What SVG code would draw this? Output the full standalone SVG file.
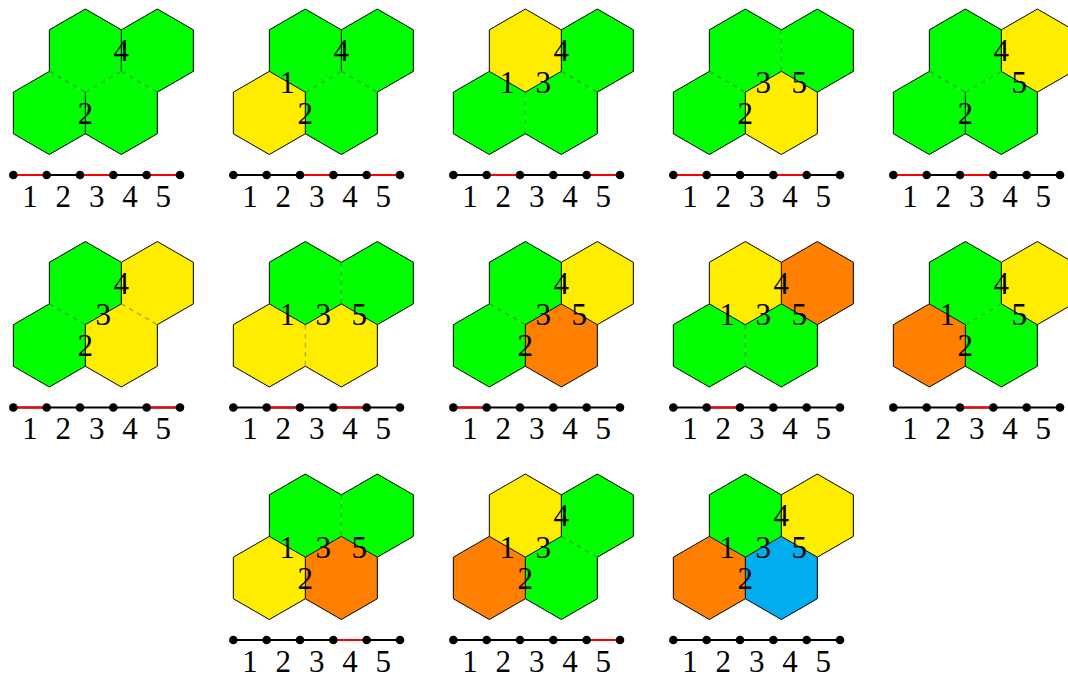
<svg xmlns="http://www.w3.org/2000/svg" xmlns:xlink="http://www.w3.org/1999/xlink" width="1068" height="677" viewBox="0 0 1068 677" font-family="'Liberation Serif', 'Times New Roman', serif" font-size="31">
<style>
.g{fill:#00ff00}.y{fill:#ffed00}.o{fill:#ff8000}.b{fill:#00aeef}
.dash{fill:none;stroke:#000;stroke-opacity:.3;stroke-width:1.2;stroke-dasharray:5 4}
.solid{fill:none;stroke:#000;stroke-width:1}
.ol{fill:none;stroke:#000;stroke-width:1;stroke-linejoin:round}
text{font-family:'Liberation Serif','Times New Roman',serif;font-size:31px;text-anchor:middle;fill:#000}
.pl{stroke:#000;stroke-width:1.8}
.red{stroke:#ff0000;stroke-width:2.2}
.dot{fill:#000}
</style>
<defs>
<polygon id="hex" points="0,-41.57 36,-20.78 36,20.78 0,41.57 -36,20.78 -36,-20.78"/>
<line id="e1" x1="49.33" y1="71.38" x2="85.33" y2="92.17"/>
<line id="e2" x1="85.33" y1="92.17" x2="85.33" y2="133.73"/>
<line id="e3" x1="85.33" y1="92.17" x2="121.33" y2="71.38"/>
<line id="e4" x1="121.33" y1="29.82" x2="121.33" y2="71.38"/>
<line id="e5" x1="121.33" y1="71.38" x2="157.33" y2="92.17"/>
<path id="outline" d="M13.33,92.17 L49.33,71.38 L49.33,29.82 L85.33,9.03 L121.33,29.82 L157.33,9.03 L193.33,29.82 L193.33,71.38 L157.33,92.17 L157.33,133.73 L121.33,154.52 L85.33,133.73 L49.33,154.52 L13.33,133.73 Z"/>
<line id="pbase" x1="13.33" y1="175" x2="180" y2="175"/>
<line id="s1" x1="13.33" y1="175" x2="46.67" y2="175"/>
<line id="s2" x1="46.67" y1="175" x2="80" y2="175"/>
<line id="s3" x1="80" y1="175" x2="113.33" y2="175"/>
<line id="s4" x1="113.33" y1="175" x2="146.67" y2="175"/>
<line id="s5" x1="146.67" y1="175" x2="180" y2="175"/>
<g id="dots">
<circle cx="13.33" cy="175" r="4.3"/><circle cx="46.67" cy="175" r="4.3"/><circle cx="80" cy="175" r="4.3"/>
<circle cx="113.33" cy="175" r="4.3"/><circle cx="146.67" cy="175" r="4.3"/><circle cx="180" cy="175" r="4.3"/>
</g>
</defs>

<!-- Panel 1 -->
<g id="panel1" transform="translate(0,0)">
<g id="p1-hexes"><use href="#hex" x="85.33" y="50.6" class="g"/><use href="#hex" x="157.33" y="50.6" class="g"/><use href="#hex" x="49.33" y="112.95" class="g"/><use href="#hex" x="121.33" y="112.95" class="g"/></g>
<g id="p1-borders"><use href="#e1" class="dash"/><use href="#e2" class="solid"/><use href="#e3" class="dash"/><use href="#e4" class="solid"/><use href="#e5" class="dash"/><use href="#outline" class="ol"/></g>
<g id="p1-labels"><text x="85.33" y="123.7">2</text><text x="121.33" y="61.4">4</text></g>
<g id="p1-path"><use href="#pbase" class="pl"/><use href="#s1" class="red"/><use href="#s3" class="red"/><use href="#s5" class="red"/><use href="#dots" class="dot"/>
<text x="30" y="206.7">1</text><text x="63.33" y="206.7">2</text><text x="96.67" y="206.7">3</text><text x="130" y="206.7">4</text><text x="163.33" y="206.7">5</text></g>
</g>

<!-- Panel 2 -->
<g id="panel2" transform="translate(220,0)">
<g id="p2-hexes"><use href="#hex" x="85.33" y="50.6" class="g"/><use href="#hex" x="157.33" y="50.6" class="g"/><use href="#hex" x="49.33" y="112.95" class="y"/><use href="#hex" x="121.33" y="112.95" class="g"/></g>
<g id="p2-borders"><use href="#e1" class="solid"/><use href="#e2" class="solid"/><use href="#e3" class="dash"/><use href="#e4" class="solid"/><use href="#e5" class="dash"/><use href="#outline" class="ol"/></g>
<g id="p2-labels"><text x="67.33" y="92.5">1</text><text x="85.33" y="123.7">2</text><text x="121.33" y="61.4">4</text></g>
<g id="p2-path"><use href="#pbase" class="pl"/><use href="#s3" class="red"/><use href="#s5" class="red"/><use href="#dots" class="dot"/>
<text x="30" y="206.7">1</text><text x="63.33" y="206.7">2</text><text x="96.67" y="206.7">3</text><text x="130" y="206.7">4</text><text x="163.33" y="206.7">5</text></g>
</g>

<!-- Panel 3 -->
<g id="panel3" transform="translate(440,0)">
<g id="p3-hexes"><use href="#hex" x="85.33" y="50.6" class="y"/><use href="#hex" x="157.33" y="50.6" class="g"/><use href="#hex" x="49.33" y="112.95" class="g"/><use href="#hex" x="121.33" y="112.95" class="g"/></g>
<g id="p3-borders"><use href="#e1" class="solid"/><use href="#e2" class="dash"/><use href="#e3" class="solid"/><use href="#e4" class="solid"/><use href="#e5" class="dash"/><use href="#outline" class="ol"/></g>
<g id="p3-labels"><text x="67.33" y="92.5">1</text><text x="103.33" y="92.5">3</text><text x="121.33" y="61.4">4</text></g>
<g id="p3-path"><use href="#pbase" class="pl"/><use href="#s2" class="red"/><use href="#s5" class="red"/><use href="#dots" class="dot"/>
<text x="30" y="206.7">1</text><text x="63.33" y="206.7">2</text><text x="96.67" y="206.7">3</text><text x="130" y="206.7">4</text><text x="163.33" y="206.7">5</text></g>
</g>

<!-- Panel 4 -->
<g id="panel4" transform="translate(660,0)">
<g id="p4-hexes"><use href="#hex" x="85.33" y="50.6" class="g"/><use href="#hex" x="157.33" y="50.6" class="g"/><use href="#hex" x="49.33" y="112.95" class="g"/><use href="#hex" x="121.33" y="112.95" class="y"/></g>
<g id="p4-borders"><use href="#e1" class="dash"/><use href="#e2" class="solid"/><use href="#e3" class="solid"/><use href="#e4" class="dash"/><use href="#e5" class="solid"/><use href="#outline" class="ol"/></g>
<g id="p4-labels"><text x="85.33" y="123.7">2</text><text x="103.33" y="92.5">3</text><text x="139.33" y="92.5">5</text></g>
<g id="p4-path"><use href="#pbase" class="pl"/><use href="#s1" class="red"/><use href="#s4" class="red"/><use href="#dots" class="dot"/>
<text x="30" y="206.7">1</text><text x="63.33" y="206.7">2</text><text x="96.67" y="206.7">3</text><text x="130" y="206.7">4</text><text x="163.33" y="206.7">5</text></g>
</g>

<!-- Panel 5 -->
<g id="panel5" transform="translate(880,0)">
<g id="p5-hexes"><use href="#hex" x="85.33" y="50.6" class="g"/><use href="#hex" x="157.33" y="50.6" class="y"/><use href="#hex" x="49.33" y="112.95" class="g"/><use href="#hex" x="121.33" y="112.95" class="g"/></g>
<g id="p5-borders"><use href="#e1" class="dash"/><use href="#e2" class="solid"/><use href="#e3" class="dash"/><use href="#e4" class="solid"/><use href="#e5" class="solid"/><use href="#outline" class="ol"/></g>
<g id="p5-labels"><text x="85.33" y="123.7">2</text><text x="121.33" y="61.4">4</text><text x="139.33" y="92.5">5</text></g>
<g id="p5-path"><use href="#pbase" class="pl"/><use href="#s1" class="red"/><use href="#s3" class="red"/><use href="#dots" class="dot"/>
<text x="30" y="206.7">1</text><text x="63.33" y="206.7">2</text><text x="96.67" y="206.7">3</text><text x="130" y="206.7">4</text><text x="163.33" y="206.7">5</text></g>
</g>

<!-- Panel 6 -->
<g id="panel6" transform="translate(0,232.5)">
<g id="p6-hexes"><use href="#hex" x="85.33" y="50.6" class="g"/><use href="#hex" x="157.33" y="50.6" class="y"/><use href="#hex" x="49.33" y="112.95" class="g"/><use href="#hex" x="121.33" y="112.95" class="y"/></g>
<g id="p6-borders"><use href="#e1" class="dash"/><use href="#e2" class="solid"/><use href="#e3" class="solid"/><use href="#e4" class="solid"/><use href="#e5" class="dash"/><use href="#outline" class="ol"/></g>
<g id="p6-labels"><text x="85.33" y="123.7">2</text><text x="103.33" y="92.5">3</text><text x="121.33" y="61.4">4</text></g>
<g id="p6-path"><use href="#pbase" class="pl"/><use href="#s1" class="red"/><use href="#s5" class="red"/><use href="#dots" class="dot"/>
<text x="30" y="206.7">1</text><text x="63.33" y="206.7">2</text><text x="96.67" y="206.7">3</text><text x="130" y="206.7">4</text><text x="163.33" y="206.7">5</text></g>
</g>

<!-- Panel 7 -->
<g id="panel7" transform="translate(220,232.5)">
<g id="p7-hexes"><use href="#hex" x="85.33" y="50.6" class="g"/><use href="#hex" x="157.33" y="50.6" class="g"/><use href="#hex" x="49.33" y="112.95" class="y"/><use href="#hex" x="121.33" y="112.95" class="y"/></g>
<g id="p7-borders"><use href="#e1" class="solid"/><use href="#e2" class="dash"/><use href="#e3" class="solid"/><use href="#e4" class="dash"/><use href="#e5" class="solid"/><use href="#outline" class="ol"/></g>
<g id="p7-labels"><text x="67.33" y="92.5">1</text><text x="103.33" y="92.5">3</text><text x="139.33" y="92.5">5</text></g>
<g id="p7-path"><use href="#pbase" class="pl"/><use href="#s2" class="red"/><use href="#s4" class="red"/><use href="#dots" class="dot"/>
<text x="30" y="206.7">1</text><text x="63.33" y="206.7">2</text><text x="96.67" y="206.7">3</text><text x="130" y="206.7">4</text><text x="163.33" y="206.7">5</text></g>
</g>

<!-- Panel 8 -->
<g id="panel8" transform="translate(440,232.5)">
<g id="p8-hexes"><use href="#hex" x="85.33" y="50.6" class="g"/><use href="#hex" x="157.33" y="50.6" class="y"/><use href="#hex" x="49.33" y="112.95" class="g"/><use href="#hex" x="121.33" y="112.95" class="o"/></g>
<g id="p8-borders"><use href="#e1" class="dash"/><use href="#e2" class="solid"/><use href="#e3" class="solid"/><use href="#e4" class="solid"/><use href="#e5" class="solid"/><use href="#outline" class="ol"/></g>
<g id="p8-labels"><text x="85.33" y="123.7">2</text><text x="103.33" y="92.5">3</text><text x="121.33" y="61.4">4</text><text x="139.33" y="92.5">5</text></g>
<g id="p8-path"><use href="#pbase" class="pl"/><use href="#s1" class="red"/><use href="#dots" class="dot"/>
<text x="30" y="206.7">1</text><text x="63.33" y="206.7">2</text><text x="96.67" y="206.7">3</text><text x="130" y="206.7">4</text><text x="163.33" y="206.7">5</text></g>
</g>

<!-- Panel 9 -->
<g id="panel9" transform="translate(660,232.5)">
<g id="p9-hexes"><use href="#hex" x="85.33" y="50.6" class="y"/><use href="#hex" x="157.33" y="50.6" class="o"/><use href="#hex" x="49.33" y="112.95" class="g"/><use href="#hex" x="121.33" y="112.95" class="g"/></g>
<g id="p9-borders"><use href="#e1" class="solid"/><use href="#e2" class="dash"/><use href="#e3" class="solid"/><use href="#e4" class="solid"/><use href="#e5" class="solid"/><use href="#outline" class="ol"/></g>
<g id="p9-labels"><text x="67.33" y="92.5">1</text><text x="103.33" y="92.5">3</text><text x="121.33" y="61.4">4</text><text x="139.33" y="92.5">5</text></g>
<g id="p9-path"><use href="#pbase" class="pl"/><use href="#s2" class="red"/><use href="#dots" class="dot"/>
<text x="30" y="206.7">1</text><text x="63.33" y="206.7">2</text><text x="96.67" y="206.7">3</text><text x="130" y="206.7">4</text><text x="163.33" y="206.7">5</text></g>
</g>

<!-- Panel 10 -->
<g id="panel10" transform="translate(880,232.5)">
<g id="p10-hexes"><use href="#hex" x="85.33" y="50.6" class="g"/><use href="#hex" x="157.33" y="50.6" class="y"/><use href="#hex" x="49.33" y="112.95" class="o"/><use href="#hex" x="121.33" y="112.95" class="g"/></g>
<g id="p10-borders"><use href="#e1" class="solid"/><use href="#e2" class="solid"/><use href="#e3" class="dash"/><use href="#e4" class="solid"/><use href="#e5" class="solid"/><use href="#outline" class="ol"/></g>
<g id="p10-labels"><text x="67.33" y="92.5">1</text><text x="85.33" y="123.7">2</text><text x="121.33" y="61.4">4</text><text x="139.33" y="92.5">5</text></g>
<g id="p10-path"><use href="#pbase" class="pl"/><use href="#s3" class="red"/><use href="#dots" class="dot"/>
<text x="30" y="206.7">1</text><text x="63.33" y="206.7">2</text><text x="96.67" y="206.7">3</text><text x="130" y="206.7">4</text><text x="163.33" y="206.7">5</text></g>
</g>

<!-- Panel 11 -->
<g id="panel11" transform="translate(220,465)">
<g id="p11-hexes"><use href="#hex" x="85.33" y="50.6" class="g"/><use href="#hex" x="157.33" y="50.6" class="g"/><use href="#hex" x="49.33" y="112.95" class="y"/><use href="#hex" x="121.33" y="112.95" class="o"/></g>
<g id="p11-borders"><use href="#e1" class="solid"/><use href="#e2" class="solid"/><use href="#e3" class="solid"/><use href="#e4" class="dash"/><use href="#e5" class="solid"/><use href="#outline" class="ol"/></g>
<g id="p11-labels"><text x="67.33" y="92.5">1</text><text x="85.33" y="123.7">2</text><text x="103.33" y="92.5">3</text><text x="139.33" y="92.5">5</text></g>
<g id="p11-path"><use href="#pbase" class="pl"/><use href="#s4" class="red"/><use href="#dots" class="dot"/>
<text x="30" y="206.7">1</text><text x="63.33" y="206.7">2</text><text x="96.67" y="206.7">3</text><text x="130" y="206.7">4</text><text x="163.33" y="206.7">5</text></g>
</g>

<!-- Panel 12 -->
<g id="panel12" transform="translate(440,465)">
<g id="p12-hexes"><use href="#hex" x="85.33" y="50.6" class="y"/><use href="#hex" x="157.33" y="50.6" class="g"/><use href="#hex" x="49.33" y="112.95" class="o"/><use href="#hex" x="121.33" y="112.95" class="g"/></g>
<g id="p12-borders"><use href="#e1" class="solid"/><use href="#e2" class="solid"/><use href="#e3" class="solid"/><use href="#e4" class="solid"/><use href="#e5" class="dash"/><use href="#outline" class="ol"/></g>
<g id="p12-labels"><text x="67.33" y="92.5">1</text><text x="85.33" y="123.7">2</text><text x="103.33" y="92.5">3</text><text x="121.33" y="61.4">4</text></g>
<g id="p12-path"><use href="#pbase" class="pl"/><use href="#s5" class="red"/><use href="#dots" class="dot"/>
<text x="30" y="206.7">1</text><text x="63.33" y="206.7">2</text><text x="96.67" y="206.7">3</text><text x="130" y="206.7">4</text><text x="163.33" y="206.7">5</text></g>
</g>

<!-- Panel 13 -->
<g id="panel13" transform="translate(660,465)">
<g id="p13-hexes"><use href="#hex" x="85.33" y="50.6" class="g"/><use href="#hex" x="157.33" y="50.6" class="y"/><use href="#hex" x="49.33" y="112.95" class="o"/><use href="#hex" x="121.33" y="112.95" class="b"/></g>
<g id="p13-borders"><use href="#e1" class="solid"/><use href="#e2" class="solid"/><use href="#e3" class="solid"/><use href="#e4" class="solid"/><use href="#e5" class="solid"/><use href="#outline" class="ol"/></g>
<g id="p13-labels"><text x="67.33" y="92.5">1</text><text x="85.33" y="123.7">2</text><text x="103.33" y="92.5">3</text><text x="121.33" y="61.4">4</text><text x="139.33" y="92.5">5</text></g>
<g id="p13-path"><use href="#pbase" class="pl"/><use href="#dots" class="dot"/>
<text x="30" y="206.7">1</text><text x="63.33" y="206.7">2</text><text x="96.67" y="206.7">3</text><text x="130" y="206.7">4</text><text x="163.33" y="206.7">5</text></g>
</g>
</svg>
